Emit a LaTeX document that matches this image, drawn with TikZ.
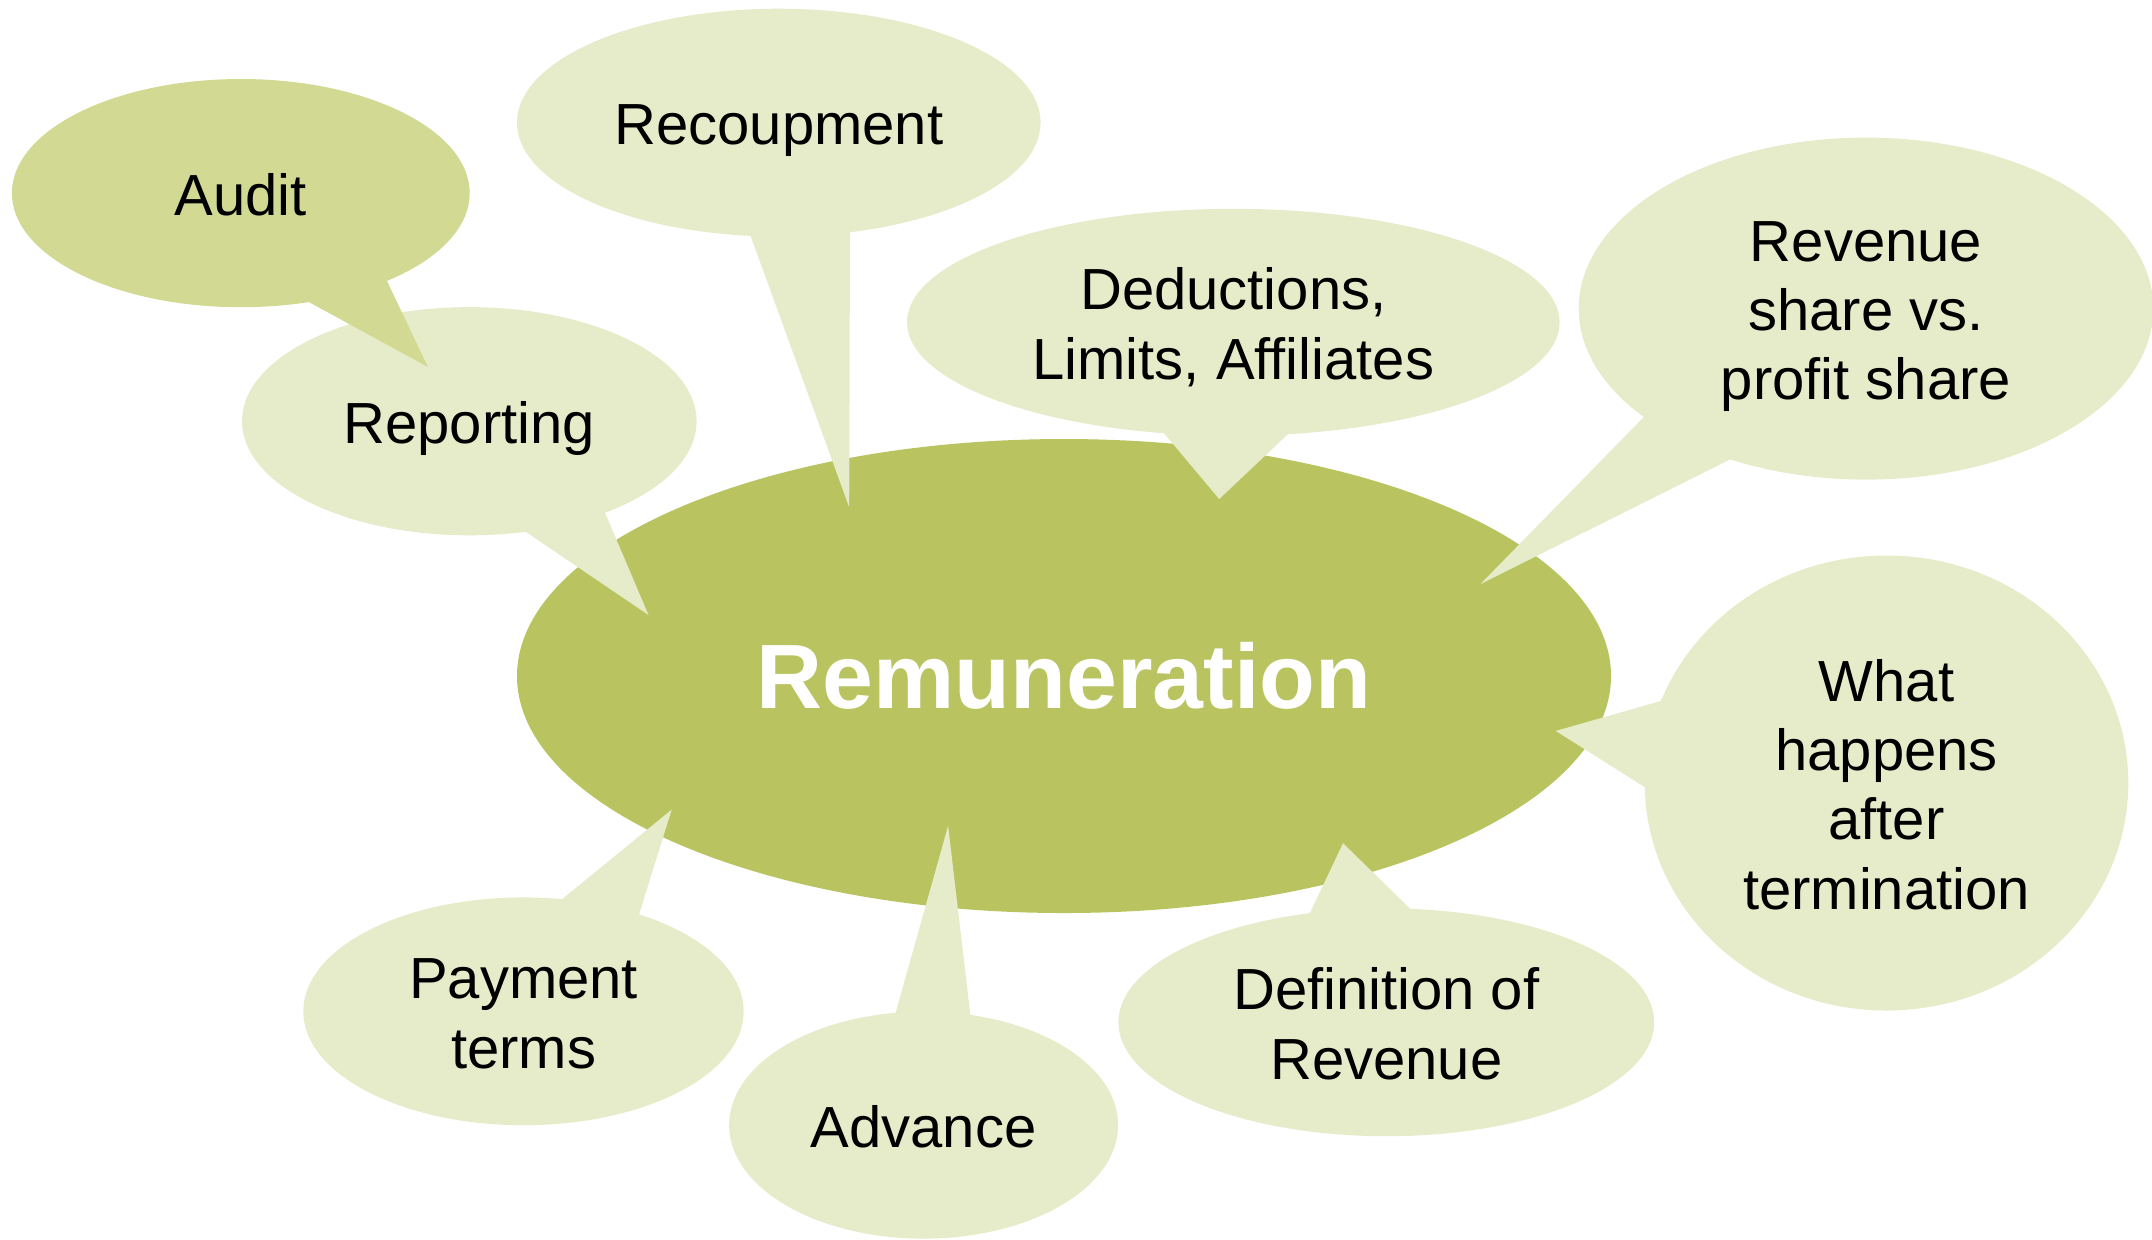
\documentclass[tikz,border=0pt]{standalone}
\usepackage{fontspec}
\setmainfont{Liberation Sans}
\usepackage{tikz}
\usetikzlibrary{shapes.geometric}
\definecolor{RemGreen}{HTML}{B9C460}
\definecolor{BubbleLight}{HTML}{E6EBC9}
\definecolor{BubbleDark}{HTML}{D1D993}
% strut spanning all #1 lines of a bubble text, so that it sits centred
\newcommand{\bubstrut}[1][1]{\rule[-0.212em]{0pt}{\dimexpr 1.187em+\baselineskip*(#1-1)\relax}}
\tikzset{
  bubble/.style n args={4}{ellipse, fill=#1, minimum width=#2, minimum height=#3,
    inner sep=0pt, outer sep=0pt, align=center,
    font=\fontsize{16.5}{19.7}\selectfont,
    execute at begin node=\bubstrut[#4], execute at end node=\bubstrut},
  core/.style={ellipse, fill=RemGreen, minimum width=109.4mm, minimum height=47.4mm,
    inner sep=0pt, text=white, font=\fontsize{26}{31}\selectfont\bfseries}
}

\begin{document}
\begin{tikzpicture}[x=0.1mm,y=-0.1mm]
  \useasboundingbox (0,0) rectangle (2152,1239);
  \node[core] (rem) at (1064,676) {Remuneration};

  % bubbles: name/colour/centre/size/tail angles/tail tip/lines/text
  \foreach \nm/\col/\cx/\cy/\bw/\bh/\angA/\angB/\tx/\ty/\nl/\txt in {
      rep/BubbleLight/469.3/421.2/45.46mm/22.82mm/-34.8/-63.8/648.5/615/1/{Reporting},
      aud/BubbleDark/240.8/193.1/45.78mm/22.82mm/-31.4/-58.3/427.8/366.9/1/{Audit},
      rec/BubbleLight/778.8/122.6/52.36mm/22.78mm/-104.4/-57.5/849.2/507.3/1/{Recoupment},
      ded/BubbleLight/1233.3/322.3/65.26mm/22.7mm/-122.5/-64.8/1219.2/499/2/{Deductions,\\Limits, Affiliates},
      shr/BubbleLight/1866/308.6/57.46mm/34.2mm/-154.1/-132.7/1480.5/584/3/{Revenue\\share vs.\\profit share},
      trm/BubbleLight/1886.5/783/48.36mm/45.5mm/160.6/181.4/1555.7/730.9/4/{What\\happens\\after\\termination},
      def/BubbleLight/1386.3/1022.3/53.58mm/22.78mm/125.6/78.1/1343/843.2/2/{Definition of\\Revenue},
      adv/BubbleLight/923.6/1125.1/38.9mm/22.7mm/104/67.3/948.1/825.8/1/{Advance},
      pay/BubbleLight/523.5/1011.3/44.04mm/22.78mm/71.4/40/671.7/809.6/2/{Payment\\terms}} {
    \coordinate (\nm-tip) at (\tx,\ty);
    \node[bubble={\col}{\bw}{\bh}{\nl}] (\nm) at (\cx,\cy) {\txt};
    \fill[\col] (\nm.\angA) -- (\nm-tip) -- (\nm.\angB) -- cycle;
  }
\end{tikzpicture}
\end{document}
